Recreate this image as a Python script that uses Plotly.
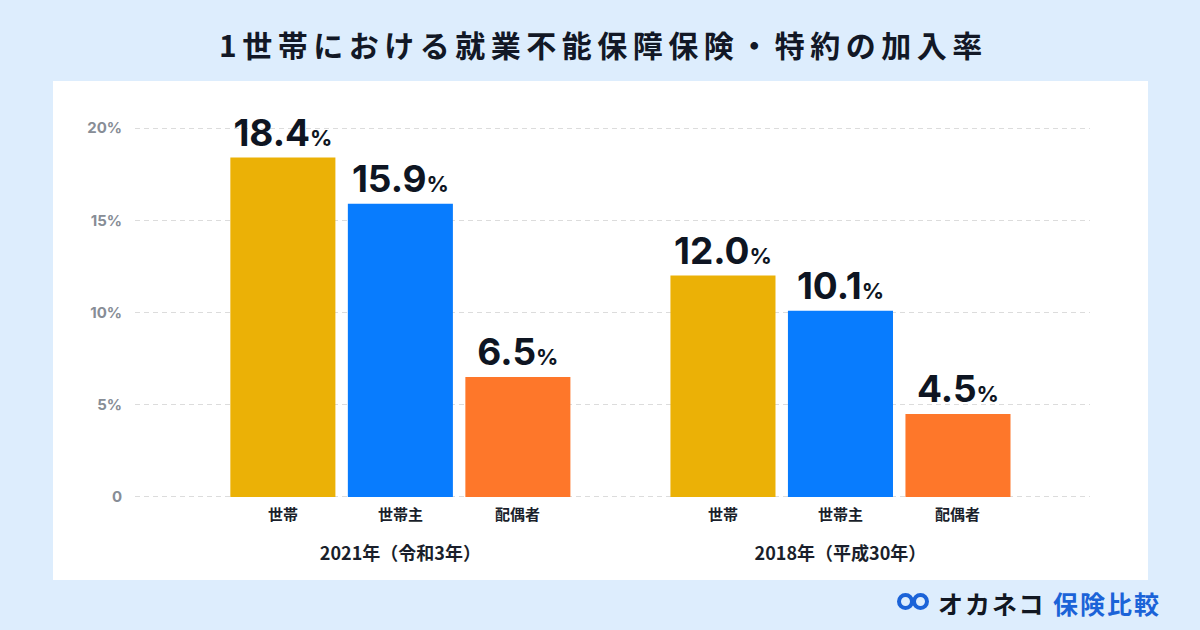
import plotly.graph_objects as go

# ---- data ----
groups = ["2021年（令和3年）", "2018年（平成30年）"]
members = ["世帯", "世帯主", "配偶者"]
values = {
    "世帯": [18.4, 12.0],
    "世帯主": [15.9, 10.1],
    "配偶者": [6.5, 4.5],
}
y_tickvals = [0, 5, 10, 15, 20]
y_ticktext = ["0", "5%", "10%", "15%", "20%"]
title_text = "1世帯における就業不能保障保険・特約の加入率"

colors = {"世帯": "#EBB106", "世帯主": "#087CFE", "配偶者": "#FE772A"}

W, H = 1200, 630
L, R, T, B = 135, 110, 127, 132
pw, ph = W - L - R, H - T - B


def px_x(p):
    return (p - L) / pw


def px_y(p):
    return (H - B - p) / ph


JP = "Noto Sans CJK JP"
NUM = "Inter, Noto Sans CJK JP"

fig = go.Figure()
for m in members:
    fig.add_trace(go.Bar(
        name=m, x=groups, y=values[m],
        marker=dict(color=colors[m], line=dict(width=0)),
        texttemplate="<b>%{y:.1f}</b><span style='font-size:22px'><b>%</b></span>",
        textposition="outside",
        textfont=dict(family=NUM, size=37, color="#0E1522"),
        cliponaxis=False,
        hoverinfo="skip",
    ))

shapes = [
    dict(type="rect", xref="paper", yref="paper",
         x0=px_x(53), x1=px_x(1148), y0=px_y(580), y1=px_y(81),
         fillcolor="white", line=dict(width=0), layer="below"),
    # logo icon: two rings
    dict(type="circle", xref="paper", yref="paper",
         x0=px_x(899), x1=px_x(912), y0=px_y(608), y1=px_y(595),
         line=dict(color="#1B63D8", width=4), fillcolor="rgba(0,0,0,0)"),
    dict(type="circle", xref="paper", yref="paper",
         x0=px_x(914), x1=px_x(927), y0=px_y(608), y1=px_y(595),
         line=dict(color="#1B63D8", width=4), fillcolor="rgba(0,0,0,0)"),
]

annotations = [
    dict(text=f"<b><span style='letter-spacing:5.5px'>{title_text}</span></b>",
         xref="paper", yref="paper", x=px_x(603), y=px_y(44),
         xanchor="center", yanchor="middle", showarrow=False,
         font=dict(family=JP, size=30, color="#121826")),
    dict(text="<b><span style='letter-spacing:2px'>オカネコ</span></b>",
         xref="paper", yref="paper",
         x=px_x(936), y=px_y(603), xanchor="left", yanchor="middle",
         showarrow=False, font=dict(family=JP, size=25, color="#111722")),
    dict(text="<b><span style='letter-spacing:2px'>保険比較</span></b>",
         xref="paper", yref="paper",
         x=px_x(1051), y=px_y(603), xanchor="left", yanchor="middle",
         showarrow=False, font=dict(family=JP, size=25, color="#1B63D8")),
]

pitch = 117.5
for g in groups:
    for k, m in enumerate(members):
        annotations.append(dict(
            text=f"<b>{m}</b>", x=g, xref="x", y=0, yref="y",
            xshift=(k - 1) * pitch, yshift=-17, yanchor="middle",
            showarrow=False, font=dict(family=JP, size=15, color="#1A1F2B")))

fig.update_layout(
    width=W, height=H,
    margin=dict(l=L, r=R, t=T, b=B),
    paper_bgcolor="#DDEDFD", plot_bgcolor="rgba(0,0,0,0)",
    barmode="group", bargap=0.199, bargroupgap=0.106,
    showlegend=False,
    shapes=shapes, annotations=annotations,
    xaxis=dict(
        type="category", range=[-0.603, 1.567],
        showgrid=False, zeroline=False, showline=False, ticks="",
        tickfont=dict(family=JP, size=18, color="#1A1F2B"),
        ticklabelstandoff=43,
        tickvals=groups, ticktext=[f"<b>{g}</b>" for g in groups],
        fixedrange=True,
    ),
    yaxis=dict(
        range=[-0.06, 20.06], tickvals=y_tickvals,
        ticktext=[f"<b>{t}</b>" for t in y_ticktext],
        showgrid=True, gridcolor="#DCDCDC", griddash="5px,4px", gridwidth=1,
        zeroline=False, showline=False, ticks="",
        tickfont=dict(family=NUM, size=15, color="#878D96"),
        ticklabelstandoff=12,
        fixedrange=True,
    ),
)

fig.write_html("out.html", config={"displayModeBar": False},
               post_script="document.body.style.margin='0';")
